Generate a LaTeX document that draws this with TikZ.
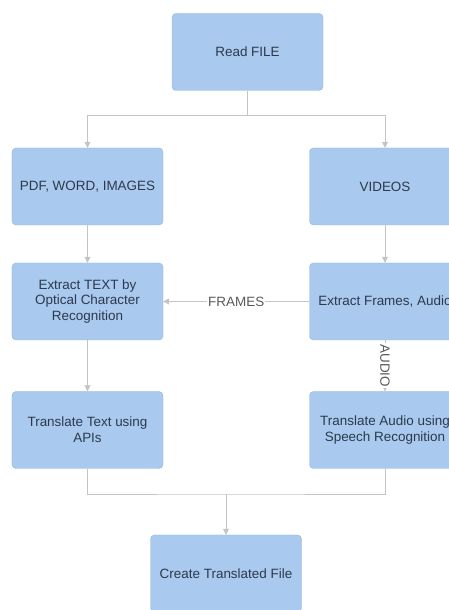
\documentclass[tikz,border=0pt]{standalone}
\usepackage{fontspec}
\setmainfont{Liberation Sans}
\usepackage{tikz}
\usetikzlibrary{arrows.meta}

\definecolor{boxfill}{HTML}{A9C9EE}
\definecolor{boxline}{HTML}{94B4DA}
\definecolor{boxtext}{HTML}{2C3A4C}
\definecolor{wire}{HTML}{C4C4C4}
\definecolor{wiretext}{HTML}{5A5A5A}

\begin{document}
\begin{tikzpicture}[x=1bp,y=1bp,
    stage/.style={draw=boxline,fill=boxfill,rounded corners=4bp,text=boxtext,
      minimum width=151bp,minimum height=77bp,align=center,inner sep=2bp,
      font=\fontsize{13.5}{16}\selectfont},
    wireline/.style={draw=wire,line width=0.9bp},
    wirearrow/.style={wireline,-{Triangle[width=6bp,length=6bp]}},
    wirelabel/.style={fill=white,text=wiretext,inner sep=1bp,
      font=\fontsize{13.5}{16}\selectfont}]
  \clip (0,0) rectangle (449,610);

  \node[stage] (read) at (247.5,558){Read FILE};

  \node[stage] (pdf) at (87.5,423.5){PDF, WORD, IMAGES};
  \node[stage] (videos) at (385,423.5){VIDEOS};

  \node[stage] (ocr) at (87.5,308.5){Extract TEXT by\\Optical Character\\Recognition};
  \node[stage] (frames) at (385,308.5){Extract Frames, Audio};

  \node[stage] (trtext) at (87.5,180){Translate Text using\\APIs};
  \node[stage] (traudio) at (385,180){Translate Audio using\\Speech Recognition};

  \node[stage] (create) at (226,36.5){Create Translated File};

  \coordinate (split) at (247.5,495);
  \coordinate (join) at (226,116);

  \draw[wireline] (read) -- (split);
  \draw[wirearrow] (split) -| (pdf);
  \draw[wirearrow] (split) -| (videos);

  \draw[wirearrow] (pdf) -- (ocr);
  \draw[wirearrow] (videos) -- (frames);
  \draw[wirearrow] (ocr) -- (trtext);

  \draw[wirearrow] (frames) -- node[wirelabel]{FRAMES} (ocr);
  \draw[wirearrow] (frames) -- node[wirelabel,rotate=-90]{AUDIO} (traudio);

  \draw[wireline] (trtext.south) |- (join) -| (traudio.south);
  \draw[wirearrow] (join) -- (create);

\end{tikzpicture}
\end{document}
